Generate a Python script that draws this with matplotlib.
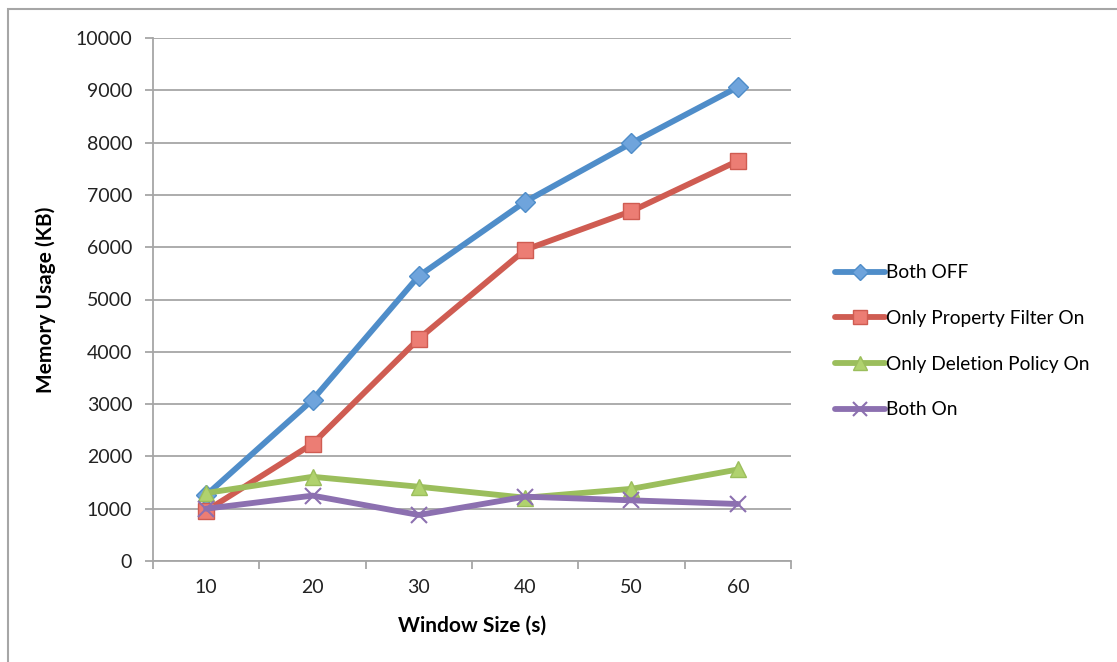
import matplotlib
matplotlib.use('Agg')
import matplotlib.pyplot as plt
from matplotlib.patches import Rectangle

plt.rcParams['font.family'] = ['Lato', 'DejaVu Sans']

# Memory usage (KB) per window size (s)
window_sizes = [10, 20, 30, 40, 50, 60]
both_off = [1260, 3080, 5450, 6870, 7990, 9060]
only_filter = [960, 2240, 4250, 5950, 6690, 7650]
only_deletion = [1300, 1610, 1420, 1210, 1380, 1750]
both_on = [1000, 1250, 880, 1230, 1160, 1090]

series = [
    ('Both OFF', both_off, '#4F8DC9', '#6FA4DC', 'D', 10),
    ('Only Property Filter On', only_filter, '#CF5C52', '#EC7D74', 's', 12),
    ('Only Deletion Policy On', only_deletion, '#9BBE5C', '#B0D26E', '^', 12),
    ('Both On', both_on, '#8C70B0', '#8C70B0', 'x', 12),
]

W, H = 1117, 662
fig = plt.figure(figsize=(W / 100, H / 100), dpi=100)
ax = fig.add_axes([153 / W, 1 - 561 / H, (791 - 153) / W, (561 - 38) / H])

# outer chart frame
fig.patches.append(Rectangle((8 / W, -0.1), 1.2, 1 - 9 / H + 0.1, transform=fig.transFigure,
                             fill=False, edgecolor='#A6A6A6', linewidth=1.5))

for label, vals, lc, fc, mk, ms in series:
    ax.plot(window_sizes, vals, color=lc, linewidth=4.2, marker=mk, markersize=ms,
            markerfacecolor=fc, markeredgecolor=lc if mk != 'x' else fc,
            markeredgewidth=1.0 if mk != 'x' else 1.5, label=label, zorder=3,
            solid_capstyle='round', solid_joinstyle='round')

ax.set_xlim(5, 65)
ax.set_ylim(0, 10000)
ax.set_yticks(range(0, 10001, 1000))
ax.yaxis.grid(True, color='#A6A6A6', linewidth=1.3)
ax.set_axisbelow(True)

# category boundaries as major ticks, labels centred on categories
ax.set_xticks(range(5, 66, 10))
ax.set_xticklabels([])
ax.set_xticks(window_sizes, minor=True)
ax.set_xticklabels([str(v) for v in window_sizes], minor=True)
ax.tick_params(axis='x', which='minor', length=0, pad=13, labelsize=14, colors='#222222')
ax.tick_params(axis='x', which='major', length=6, color='#A6A6A6', width=1.3)
ax.tick_params(axis='y', length=6, color='#A6A6A6', width=1.3, labelsize=14, pad=9,
               labelcolor='#222222')

for s in ['top', 'right']:
    ax.spines[s].set_visible(False)
for s in ['left', 'bottom']:
    ax.spines[s].set_color('#A6A6A6')
    ax.spines[s].set_linewidth(1.3)

ax.set_ylabel('Memory Usage (KB)', fontsize=15, fontweight='bold', labelpad=14)
ax.set_xlabel('Window Size (s)', fontsize=15, fontweight='bold', labelpad=14)

leg = ax.legend(loc='upper left', bbox_to_anchor=(818 / W, 1 - 247 / H), bbox_transform=fig.transFigure,
                frameon=False, fontsize=13.8, handlelength=2.6, handletextpad=0.05,
                labelspacing=1.5, markerscale=0.85)

fig.savefig('out.png', dpi=100)
